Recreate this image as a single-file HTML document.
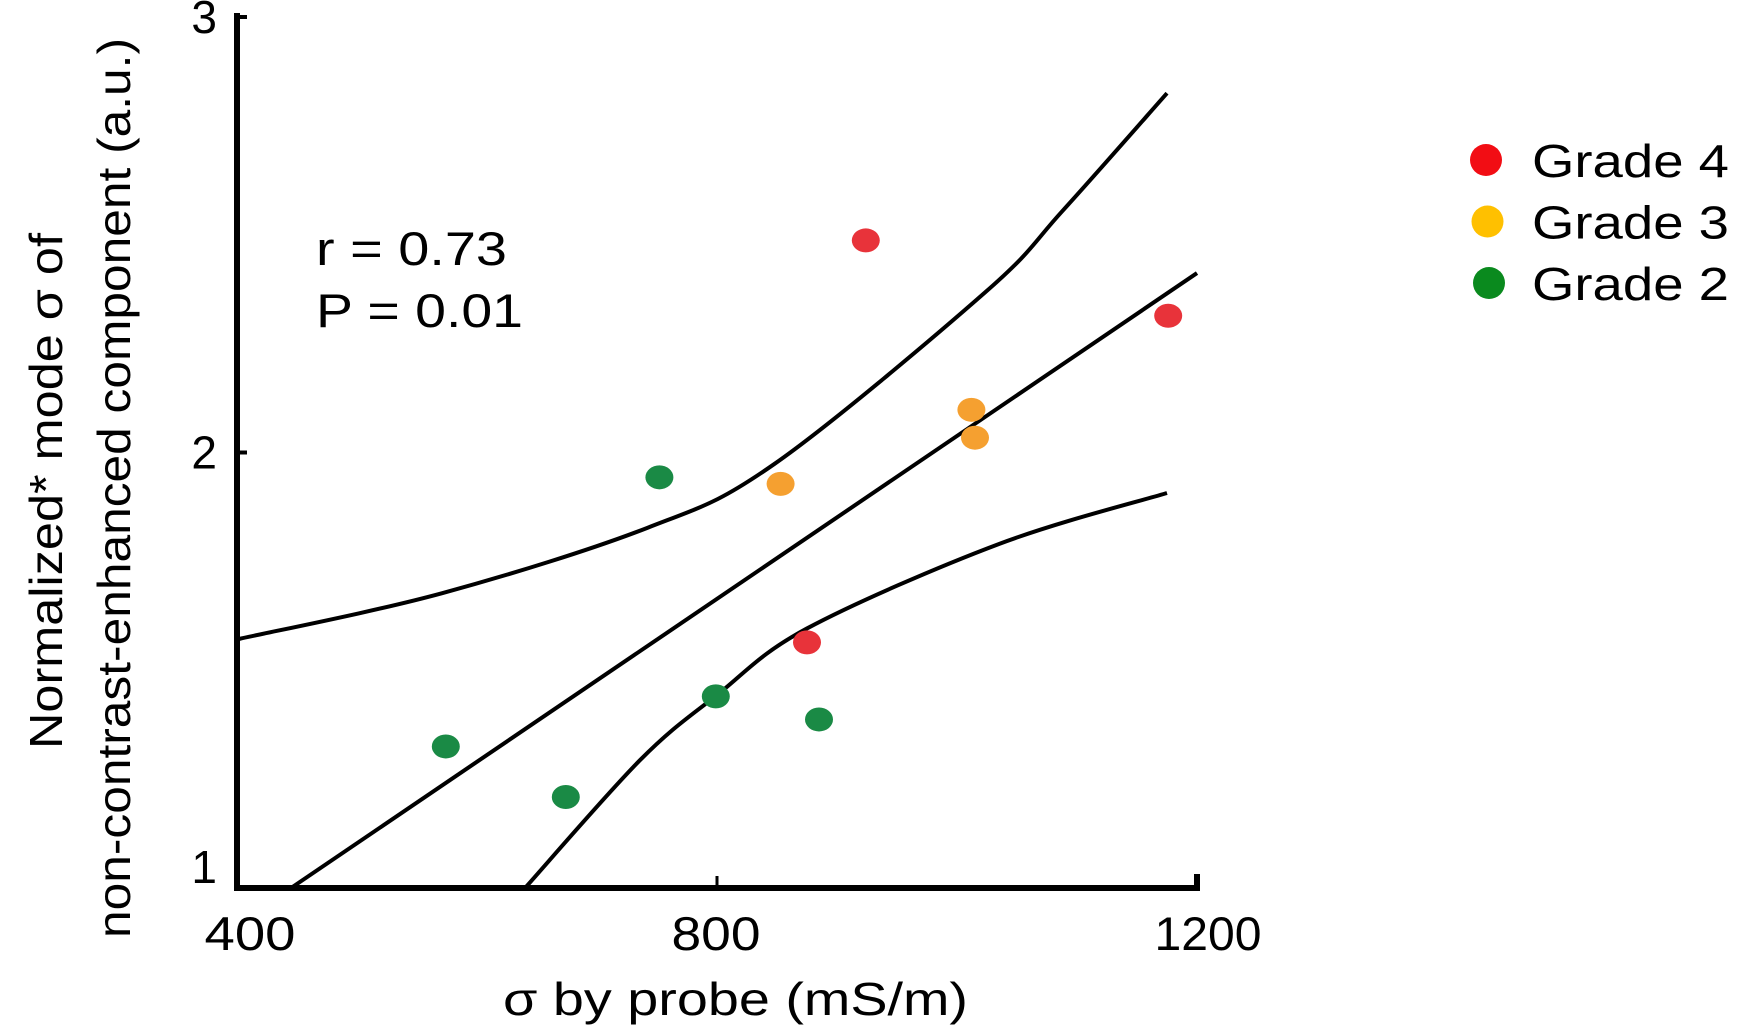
<!DOCTYPE html>
<html><head><meta charset="utf-8"><style>
html,body{margin:0;padding:0;background:#fff;}
svg{display:block;font-family:"Liberation Sans",sans-serif;}
</style></head><body>
<svg id="chart" width="1757" height="1031" viewBox="0 0 1757 1031">
<g id="axes"></g>
<g id="bands"></g>
<g id="points"></g>
<text x="316" y="265" font-size="47" textLength="191" lengthAdjust="spacingAndGlyphs">r = 0.73</text>
<text x="316" y="327" font-size="47" textLength="207" lengthAdjust="spacingAndGlyphs">P = 0.01</text>
<text x="503" y="1015" font-size="46" textLength="465" lengthAdjust="spacingAndGlyphs">σ by probe (mS/m)</text>
<g transform="translate(62,490) rotate(-90)">
<text x="-259" y="0" font-size="46" textLength="516" lengthAdjust="spacingAndGlyphs">Normalized* mode σ of</text>
<text x="-448" y="68" font-size="46" textLength="900" lengthAdjust="spacingAndGlyphs">non-contrast-enhanced component (a.u.)</text>
</g>
<g id="legend"></g>
</svg>
<script>
const xTicks=[400,800,1200];
const yTicks=[1,2,3];
const ptX=[924,1176,875,1012,1015,853,752,799,885,574,674];
const ptY=[2.487,2.314,1.564,2.098,2.034,1.928,1.943,1.44,1.387,1.325,1.209];
const ptGrade=[4,4,4,3,3,3,2,2,2,2,2];
const fitX=[445,1200];
const fitY=[1.0,2.412];
const upX=[402,571,742,848,1024,1088,1175];
const upY=[1.572,1.677,1.827,1.974,2.369,2.555,2.825];
const loX=[640,736,800,875,1035,1175];
const loY=[1.0,1.294,1.443,1.596,1.79,1.907];
const grades=[4,3,2];
const NS="http://www.w3.org/2000/svg";
const X=v=>237+(v-400)*(1197-237)/800;
const Y=v=>888-(v-1)*(888-17)/2;
const ptColor={4:"#e8333a",3:"#f5a030",2:"#1a8a45"};
const legColor={4:"#f20d14",3:"#ffc000",2:"#0a8a1e"};
const xLabLen={400:91,800:89,1200:107};
const xLabCx={400:250,800:716,1200:1208};
function mk(t,a,p){const e=document.createElementNS(NS,t);for(const k in a)e.setAttribute(k,a[k]);p.appendChild(e);return e;}
const axes=document.getElementById('axes');
let l=mk('path',{d:`M${X(400)} ${Y(3)-4}V${Y(1)}H${X(1200)}V${Y(1)-14}`,fill:'none',stroke:'#000','stroke-width':6},axes);


yTicks.forEach(v=>{
 const t=mk('line',{x1:X(400),x2:X(400)+10,y1:Y(v),y2:Y(v),stroke:'#000','stroke-width':4},axes);
 
 
 const s=mk('text',{x:X(400)-20,y:Y(v)+(v==3?16:v==1?-5:16),'font-size':46,'text-anchor':'end'},axes);
 s.textContent=v;
 
 
});
xTicks.forEach(v=>{
 const t=mk('line',{x1:X(v),x2:X(v),y1:Y(1),y2:Y(1)-12,stroke:'#000','stroke-width':3},axes);
 
 
 const s=mk('text',{x:xLabCx[v]-xLabLen[v]/2,y:950,'font-size':47,textLength:xLabLen[v],lengthAdjust:'spacingAndGlyphs'},axes);
 s.textContent=v;
 
 
});
function smooth(xs,ys){
 const p=xs.map((x,i)=>[X(x),Y(ys[i])]);
 let d=`M${p[0][0]} ${p[0][1]}`;
 for(let i=0;i<p.length-1;i++){
  const p0=p[i-1]||p[i],p1=p[i],p2=p[i+1],p3=p[i+2]||p2;
  d+=`C${p1[0]+(p2[0]-p0[0])/6} ${p1[1]+(p2[1]-p0[1])/6} ${p2[0]-(p3[0]-p1[0])/6} ${p2[1]-(p3[1]-p1[1])/6} ${p2[0]} ${p2[1]}`;
 }
 return d;
}
const bands=document.getElementById('bands');
let f=mk('path',{d:`M${X(fitX[0])} ${Y(fitY[0])}L${X(fitX[1])} ${Y(fitY[1])}`,stroke:'#000','stroke-width':4,fill:'none'},bands);


let u=mk('path',{d:smooth(upX,upY),stroke:'#000','stroke-width':4,fill:'none'},bands);


let lo=mk('path',{d:smooth(loX,loY),stroke:'#000','stroke-width':4,fill:'none'},bands);


const pts=document.getElementById('points');
ptX.forEach((x,i)=>{
 const c=mk('ellipse',{cx:X(x),cy:Y(ptY[i]),rx:14,ry:12,fill:ptColor[ptGrade[i]]},pts);
 
 
});
const leg=document.getElementById('legend');
grades.forEach((g,i)=>{
 const cy=160+i*61.5;
 const c=mk('circle',{cx:1486+i*1.5,cy:cy,r:16,fill:legColor[g]},leg);
 
 
 const t=mk('text',{x:1532,y:cy+17,'font-size':46,textLength:197,lengthAdjust:'spacingAndGlyphs'},leg);
 t.textContent='Grade '+g;
 
 
});
</script>
</body></html>
